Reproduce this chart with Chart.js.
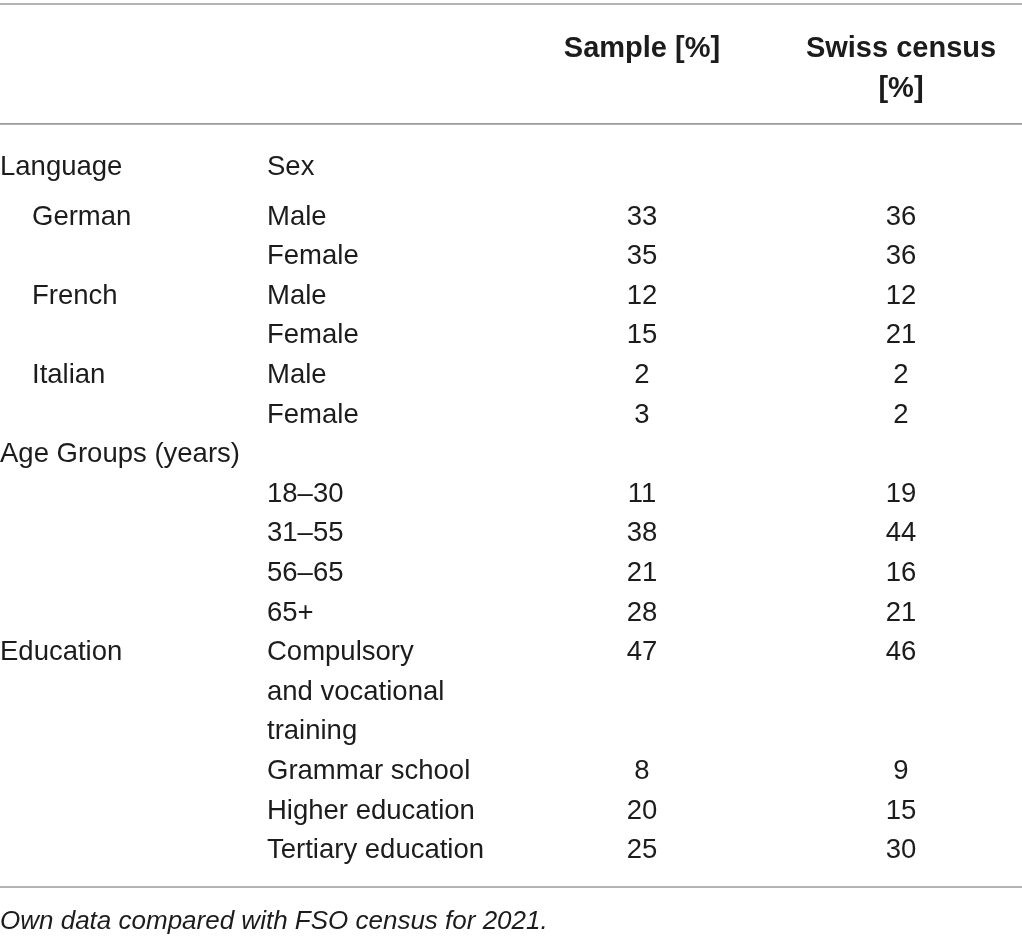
<!DOCTYPE html>
<html>
<head>
<meta charset="utf-8">
<title>Sample vs Swiss census</title>
<script src="https://cdn.jsdelivr.net/npm/chart.js@4.4.1/dist/chart.umd.min.js"></script>
<style>
  html, body { margin: 0; padding: 0; background: #fff; }
  #wrap { position: relative; width: 1022px; height: 939px; }
</style>
</head>
<body>
<div id="wrap"><canvas id="tableChart"></canvas></div>
<script>
// --- données du tableau ---
const headers = [['Sample [%]'], ['Swiss census', '[%]']];
const sections = ['Language', 'Age Groups (years)', 'Education'];
const sexHeader = 'Sex';
const languages = ['German', 'French', 'Italian'];
const sexes = ['Male', 'Female'];
const ageGroups = ['18–30', '31–55', '56–65', '65+'];
const educationLevels = [
    ['Compulsory', 'and vocational', 'training'],
    ['Grammar school'],
    ['Higher education'],
    ['Tertiary education']
];
const caption = 'Own data compared with FSO census for 2021.';

// valeurs en %
const sampleLanguage = [33, 35, 12, 15, 2, 3];
const censusLanguage = [36, 36, 12, 21, 2, 2];
const sampleAge = [11, 38, 21, 28];
const censusAge = [19, 44, 16, 21];
const sampleEducation = [47, 8, 20, 25];
const censusEducation = [46, 9, 15, 30];

// --- mise en page (unités : x en px, y en lignes) ---
const L = {
    width: 1022, height: 939,
    xGroup: 0, xIndent: 32, xSub: 267, xSample: 642, xCensus: 901,
    rowPx: 39.6, firstRowPx: 215,
    headerRow: -4.24, headerGap: 1.0,
    sectionRow: -1.26,
    rules: [-5.33, -2.30, 16.97],
    captionRow: 17.8,
    textDy: 2
};
const FONT = '"Liberation Sans", Arial, sans-serif';
const INK = '#1c1c1c';

// construction des cellules à partir des tableaux
const groupCells = [], subCells = [], sampleCells = [], censusCells = [], headerCells = [];

headers.forEach((lines, i) => {
    const x = i === 0 ? L.xSample : L.xCensus;
    lines.forEach((t, n) => headerCells.push({ x: x, y: L.headerRow + n * L.headerGap, text: t }));
});

let row = 0;
groupCells.push({ x: L.xGroup, y: L.sectionRow, text: sections[0] });
subCells.push({ x: L.xSub, y: L.sectionRow, text: sexHeader });
languages.forEach((lang, i) => {
    groupCells.push({ x: L.xIndent, y: row, text: lang });
    sexes.forEach((sex, j) => {
        const k = i * sexes.length + j;
        subCells.push({ x: L.xSub, y: row, text: sex });
        sampleCells.push({ x: L.xSample, y: row, text: String(sampleLanguage[k]) });
        censusCells.push({ x: L.xCensus, y: row, text: String(censusLanguage[k]) });
        row++;
    });
});

groupCells.push({ x: L.xGroup, y: row, text: sections[1] });
row++;
ageGroups.forEach((age, i) => {
    subCells.push({ x: L.xSub, y: row, text: age });
    sampleCells.push({ x: L.xSample, y: row, text: String(sampleAge[i]) });
    censusCells.push({ x: L.xCensus, y: row, text: String(censusAge[i]) });
    row++;
});

groupCells.push({ x: L.xGroup, y: row, text: sections[2] });
educationLevels.forEach((lines, i) => {
    lines.forEach((t, n) => subCells.push({ x: L.xSub, y: row + n, text: t }));
    sampleCells.push({ x: L.xSample, y: row, text: String(sampleEducation[i]) });
    censusCells.push({ x: L.xCensus, y: row, text: String(censusEducation[i]) });
    row += lines.length;
});

const captionCells = [{ x: L.xGroup, y: L.captionRow, text: caption }];

function cellSet(label, data, font, align) {
    return { label, data, font, align, pointRadius: 0, showLine: false };
}

// plugin : filets horizontaux + texte des cellules
const tablePlugin = {
    id: 'tableText',
    beforeDatasetsDraw(chart) {
        const { ctx, chartArea, scales } = chart;
        ctx.save();
        ctx.strokeStyle = '#9b9b9b';
        ctx.lineWidth = 1.6;
        L.rules.forEach(r => {
            const y = scales.y.getPixelForValue(r);
            ctx.beginPath();
            ctx.moveTo(chartArea.left, y);
            ctx.lineTo(chartArea.right, y);
            ctx.stroke();
        });
        ctx.restore();
    },
    afterDatasetsDraw(chart) {
        const ctx = chart.ctx;
        ctx.save();
        ctx.fillStyle = INK;
        ctx.textBaseline = 'middle';
        chart.data.datasets.forEach((ds, i) => {
            const meta = chart.getDatasetMeta(i);
            ctx.font = ds.font;
            ctx.textAlign = ds.align;
            meta.data.forEach((el, j) => {
                ctx.fillText(ds.data[j].text, el.x, el.y + L.textDy);
            });
        });
        ctx.restore();
    }
};

const yMin = -L.firstRowPx / L.rowPx;
const yMax = yMin + L.height / L.rowPx;

new Chart(document.getElementById('tableChart'), {
    type: 'scatter',
    data: {
        datasets: [
            cellSet('headers', headerCells, 'bold 29px ' + FONT, 'center'),
            cellSet('groups', groupCells, '27.5px ' + FONT, 'left'),
            cellSet('subgroups', subCells, '27.5px ' + FONT, 'left'),
            cellSet('sample', sampleCells, '27.5px ' + FONT, 'center'),
            cellSet('census', censusCells, '27.5px ' + FONT, 'center'),
            cellSet('caption', captionCells, 'italic 26px ' + FONT, 'left')
        ]
    },
    options: {
        responsive: true,
        maintainAspectRatio: false,
        animation: false,
        layout: { padding: 0 },
        plugins: { legend: { display: false }, tooltip: { enabled: false } },
        scales: {
            x: { type: 'linear', min: 0, max: L.width, display: false },
            y: { type: 'linear', min: yMin, max: yMax, reverse: true, display: false }
        }
    },
    plugins: [tablePlugin]
});
</script>
</body>
</html>
